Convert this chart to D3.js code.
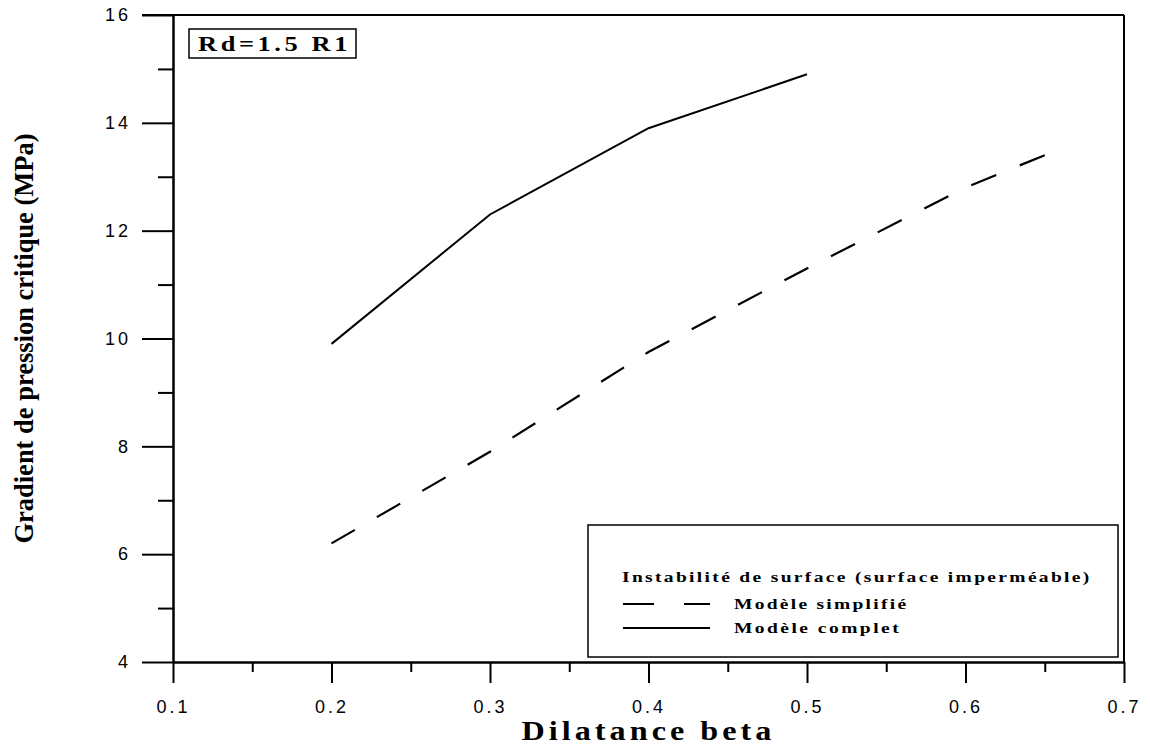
<!DOCTYPE html>
<html>
<head>
<meta charset="utf-8">
<script src="https://cdnjs.cloudflare.com/ajax/libs/d3/7.8.5/d3.min.js"></script>
<style>
  body { margin: 0; background: #fff; }
  .tick-label { font-family: "Liberation Sans", Arial, sans-serif; font-size: 18px; letter-spacing: 3px; fill: #000; }
  .serif-bold { font-family: "Liberation Serif", "Times New Roman", serif; font-weight: bold; fill: #000; }
</style>
</head>
<body>
<div id="chart"></div>
<script>
// Data
const betaComplet = [0.2, 0.3, 0.4, 0.5];
const gradComplet = [9.9, 12.3, 13.9, 14.9];
const betaSimplifie = [0.2, 0.3, 0.4, 0.5, 0.6, 0.65];
const gradSimplifie = [6.2, 7.9, 9.75, 11.3, 12.8, 13.4];
const xTicks = [0.1, 0.2, 0.3, 0.4, 0.5, 0.6, 0.7];
const xMinorTicks = [0.15, 0.25, 0.35, 0.45, 0.55, 0.65];
const yTicks = [4, 6, 8, 10, 12, 14, 16];
const yMinorTicks = [5, 7, 9, 11, 13, 15];

const width = 1150, height = 747;
const plotLeft = 173, plotRight = 1124, plotTop = 15, plotBottom = 662;

const svg = d3.select('#chart')
  .append('svg')
  .attr('width', width)
  .attr('height', height);

const x = d3.scaleLinear().domain([0.1, 0.7]).range([plotLeft, plotRight]);
const y = d3.scaleLinear().domain([4, 16]).range([plotBottom, plotTop]);

// Frame: top line and right line
svg.append('line')
  .attr('x1', plotLeft - 31).attr('x2', plotRight)
  .attr('y1', plotTop).attr('y2', plotTop)
  .attr('stroke', '#000').attr('stroke-width', 2);
svg.append('line')
  .attr('x1', plotRight).attr('x2', plotRight)
  .attr('y1', plotTop).attr('y2', plotBottom)
  .attr('stroke', '#000').attr('stroke-width', 2);

// X axis (major ticks with labels, then minor ticks)
svg.append('g')
  .attr('transform', `translate(0, ${plotBottom})`)
  .call(d3.axisBottom(x).tickValues(xTicks).tickSize(21).tickPadding(17)
    .tickSizeOuter(0).tickFormat(d3.format('.1f')));
svg.append('g')
  .attr('transform', `translate(0, ${plotBottom})`)
  .call(d3.axisBottom(x).tickValues(xMinorTicks).tickSize(10).tickFormat('').tickSizeOuter(0));

// Y axis
svg.append('g')
  .attr('transform', `translate(${plotLeft}, 0)`)
  .call(d3.axisLeft(y).tickValues(yTicks).tickSize(31).tickPadding(11)
    .tickSizeOuter(0).tickFormat(d3.format('d')));
svg.append('g')
  .attr('transform', `translate(${plotLeft}, 0)`)
  .call(d3.axisLeft(y).tickValues(yMinorTicks).tickSize(15).tickFormat('').tickSizeOuter(0));

svg.selectAll('.domain, .tick line').attr('stroke', '#000').attr('stroke-width', 2);
svg.selectAll('.tick text').attr('class', 'tick-label');

// Curves
const line = d3.line().x(d => x(d[0])).y(d => y(d[1]));

svg.append('path')
  .datum(d3.zip(betaComplet, gradComplet))
  .attr('d', line)
  .attr('fill', 'none')
  .attr('stroke', '#000')
  .attr('stroke-width', 2);

const dashed = svg.append('path')
  .datum(d3.zip(betaSimplifie, gradSimplifie))
  .attr('d', line)
  .attr('fill', 'none')
  .attr('stroke', '#000')
  .attr('stroke-width', 2.2);

// make the dash pattern start and end with a dash
const dashLen = 27;
const total = dashed.node().getTotalLength();
const periods = Math.round((total - dashLen) / 53);
const gapLen = (total - dashLen) / periods - dashLen;
dashed.attr('stroke-dasharray', `${dashLen},${gapLen}`);

// Axis titles
svg.append('text')
  .attr('class', 'serif-bold')
  .attr('transform', `translate(${(plotLeft + plotRight) / 2}, 740) scale(1.15, 1)`)
  .attr('text-anchor', 'middle')
  .style('font-size', '28px')
  .style('letter-spacing', '3.5px')
  .text('Dilatance beta');

svg.append('text')
  .attr('class', 'serif-bold')
  .attr('transform', `translate(33, ${(plotTop + plotBottom) / 2}) rotate(-90)`)
  .attr('text-anchor', 'middle')
  .style('font-size', '26.5px')
  .text('Gradient de pression critique (MPa)');

// Annotation box
svg.append('rect')
  .attr('x', 189).attr('y', 29)
  .attr('width', 167).attr('height', 29)
  .attr('fill', 'none').attr('stroke', '#000').attr('stroke-width', 1.5);
svg.append('text')
  .attr('class', 'serif-bold')
  .attr('transform', 'translate(198, 51) scale(1.2, 1)')
  .style('font-size', '22px')
  .style('letter-spacing', '3px')
  .text('Rd=1.5 R1');

// Legend
svg.append('rect')
  .attr('x', 588).attr('y', 525)
  .attr('width', 530).attr('height', 132)
  .attr('fill', '#fff').attr('stroke', '#000').attr('stroke-width', 1.5);
svg.append('text')
  .attr('class', 'serif-bold')
  .attr('transform', 'translate(622, 582) scale(1.3, 1)')
  .style('font-size', '15px')
  .style('letter-spacing', '1.8px')
  .text('Instabilité de surface (surface imperméable)');

const legendItems = [
  { label: 'Modèle simplifié', dash: '31,30', y: 604, ls: 1.75 },
  { label: 'Modèle complet', dash: null, y: 628, ls: 1.9 }
];
legendItems.forEach(item => {
  svg.append('line')
    .attr('x1', 623).attr('x2', 710)
    .attr('y1', item.y).attr('y2', item.y)
    .attr('stroke', '#000').attr('stroke-width', 2)
    .attr('stroke-dasharray', item.dash);
  svg.append('text')
    .attr('class', 'serif-bold')
    .attr('transform', `translate(734, ${item.y + 5}) scale(1.3, 1)`)
    .style('font-size', '15px')
    .style('letter-spacing', `${item.ls}px`)
    .text(item.label);
});
</script>
</body>
</html>
